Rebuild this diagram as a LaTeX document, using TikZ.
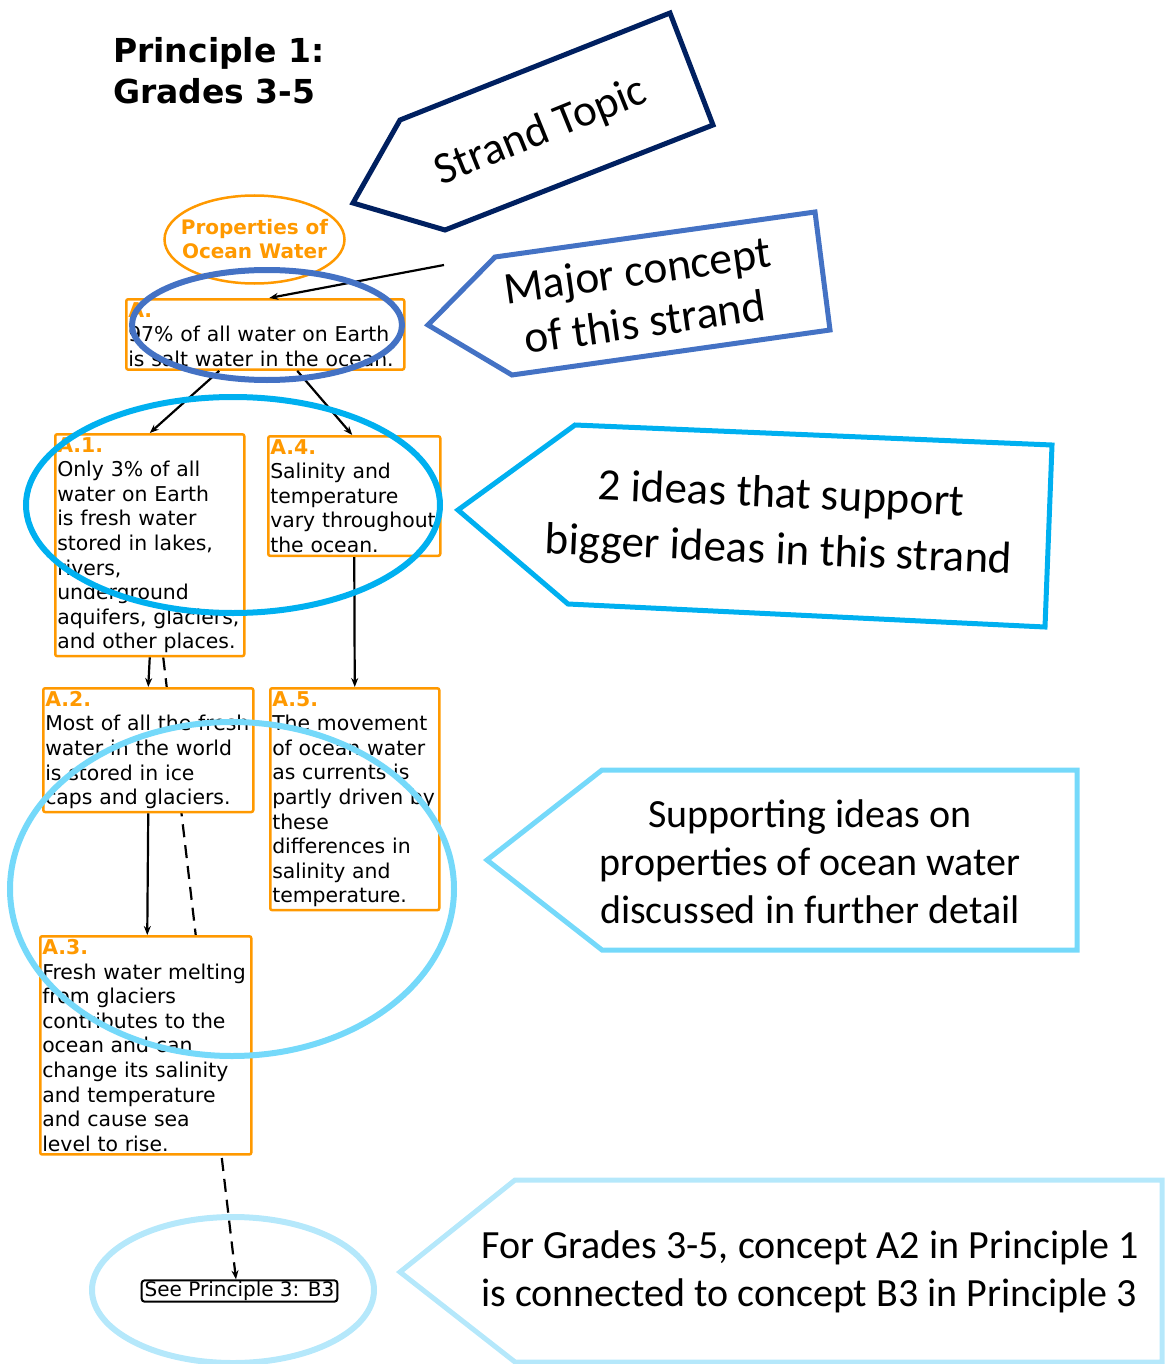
\documentclass[tikz,border=0pt]{standalone}
\usepackage{fontspec}
\setmainfont{DejaVu Sans}
\newfontfamily\calloutfont{Carlito}
\usetikzlibrary{arrows.meta}
\usetikzlibrary{backgrounds}
\definecolor{conceptorange}{RGB}{255,153,0}
\definecolor{navyblue}{RGB}{0,32,96}
\definecolor{majorblue}{RGB}{68,114,196}
\definecolor{ideacyan}{RGB}{0,176,240}
\definecolor{supportblue}{RGB}{117,217,250}
\definecolor{paleblue}{RGB}{181,232,251}
\newcommand{\drawcallout}[6]{
  \draw[#1,line width=5pt,line join=miter] #2 -- #3 -- #4 -- #5 -- #6 -- cycle;
}
\newcommand{\conceptlabel}[1]{{\bfseries\color{conceptorange}#1}}
\tikzset{
  concept/.style={draw=conceptorange,line width=2.5pt,rounded corners=2pt,fill=white,
    anchor=north west,align=left,inner xsep=2pt,inner ysep=3pt,
    font=\fontsize{20.4}{24.6}\selectfont},
  link/.style={line width=2.2pt,-{Stealth[length=9pt,width=7pt]}},
  ring/.style={line width=6pt},
  callouttext/.style={font=\calloutfont,align=center}
}

\begin{document}
\begin{tikzpicture}[x=1pt,y=-1pt]
      \useasboundingbox (0,0) rectangle (1164,1364);
      \node[anchor=north west,inner sep=0pt,align=left,font=\fontsize{33}{41}\selectfont\bfseries] (title) at (113,37) {Principle 1:\\Grades 3-5};

      % strand topic and concept boxes
      \node[align=center,text=conceptorange,font=\fontsize{20}{24}\selectfont\bfseries] (topic) at (254.5,239.5) {Properties of\\Ocean Water};
      \draw[conceptorange,line width=2.5pt] (topic.center) ellipse (90 and 44);
      \node[concept,text width=274pt] (a) at (125,298) {\conceptlabel{A.}\\97\% of all water on Earth\\is salt water in the ocean.};
      \node[concept,text width=185pt] (a1) at (54,433) {\conceptlabel{A.1.}\\Only 3\% of all\\water on Earth\\is fresh water\\stored in lakes,\\rivers,\\underground\\aquifers, glaciers,\\and other places.};
      \node[concept,text width=168pt] (a4) at (267,435) {\conceptlabel{A.4.}\\Salinity and\\temperature\\vary throughout\\the ocean.};
      \node[concept,text width=206pt] (a2) at (42,687) {\conceptlabel{A.2.}\\Most of all the fresh\\water in the world\\is stored in ice\\caps and glaciers.};
      \node[concept,text width=165pt] (a5) at (269,687) {\conceptlabel{A.5.}\\The movement\\of ocean water\\as currents is\\partly driven by\\these\\differences in\\salinity and\\temperature.};
      \node[concept,text width=207pt] (a3) at (39,935) {\conceptlabel{A.3.}\\Fresh water melting\\from glaciers\\contributes to the\\ocean and can\\change its salinity\\and temperature\\and cause sea\\level to rise.};
      \node[draw,line width=2pt,rounded corners=3pt,fill=white,inner xsep=3pt,inner ysep=1pt,font=\fontsize{20}{24}\selectfont] (see) at (239.5,1291) {See Principle 3: B3};

      % links
      \coordinate (majortail) at (444,265);
      \draw[link] (majortail) -- ([xshift=4pt]a.north);
      \draw[link] ([xshift=-46pt]a.south) -- (a1.north);
      \draw[link] ([xshift=32pt]a.south) -- ([xshift=-2pt]a4.north);
      \draw[link] (a1.south) -- (a2.north);
      \draw[link] (a2.south) -- ([xshift=1.5pt]a3.north);
      \draw[link] (a4.south) -- (a5.north);
      \begin{scope}[on background layer]
        \draw[link,dashed,dash pattern=on 13pt off 8pt] ([xshift=13.5pt]a1.south) -- ([xshift=-3.5pt]see.north);
      \end{scope}

      % rings
      \draw[ring,majorblue] (267,325) ellipse (135 and 55);
      \draw[ring,ideacyan] (233,505) ellipse (207 and 108);
      \draw[ring,supportblue] (232,889) ellipse (222 and 167);
      \draw[ring,paleblue] (233,1290) ellipse (141 and 73);

      % callouts
      \drawcallout{navyblue,line width=6pt}{(353,203)}{(400,120)}{(670,13)}{(713,125)}{(445,230)}
      \node[callouttext,rotate=22,font=\calloutfont\fontsize{45}{50}\selectfont] (strandtxt) at (541,132) {Strand Topic};
      \drawcallout{majorblue}{(428,325)}{(495,257)}{(815,212)}{(830,330)}{(512,375)}
      \node[callouttext,rotate=8,font=\calloutfont\fontsize{45.5}{52}\selectfont] (majortxt) at (641,296) {Major concept\\of this strand};
      \drawcallout{ideacyan}{(458,510)}{(575,425)}{(1052,445)}{(1045,627)}{(568,604)}
      \node[callouttext,rotate=-2.5,font=\calloutfont\fontsize{45}{56}\selectfont] (ideastxt) at (780,524) {2 ideas that support\\bigger ideas in this strand};
      \drawcallout{supportblue}{(487,860)}{(602,770)}{(1077,770)}{(1077,950)}{(602,950)}
      \node[callouttext,font=\calloutfont\fontsize{40}{48}\selectfont] (supporttxt) at (810,862) {Supporting ideas on\\properties of ocean water\\discussed in further detail};
      \drawcallout{paleblue}{(400,1272)}{(515,1180)}{(1162,1180)}{(1162,1362)}{(515,1362)}
      \node[callouttext,align=left,font=\calloutfont\fontsize{40}{48}\selectfont] (gradestxt) at (810,1272) {For Grades 3-5, concept A2 in Principle 1\\is connected to concept B3 in Principle 3};
    \end{tikzpicture}
\end{document}
